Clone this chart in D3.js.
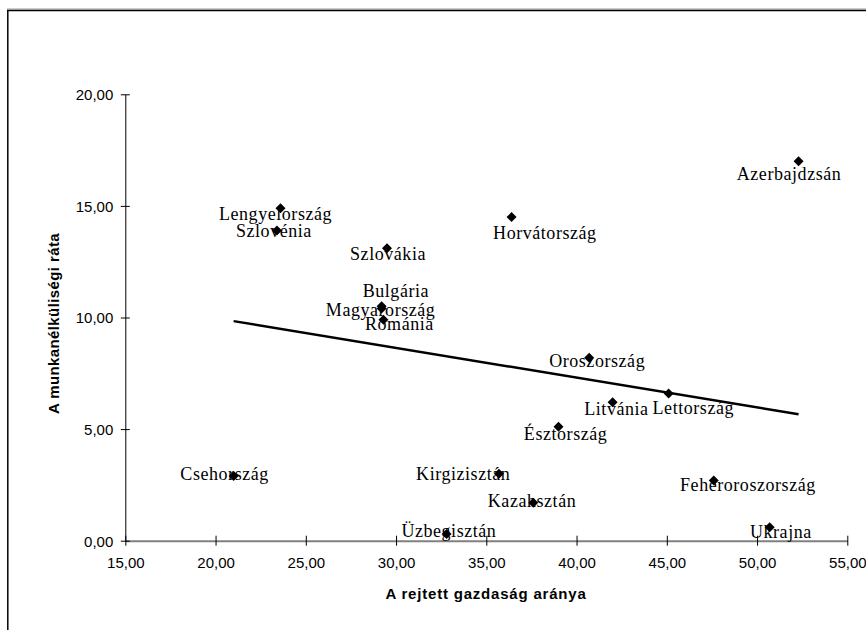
<!DOCTYPE html>
<html>
<head>
<meta charset="utf-8">
<script src="https://cdn.jsdelivr.net/npm/d3@7"></script>
<style>
  html, body { margin: 0; padding: 0; background: #fff; }
  svg { display: block; }
</style>
</head>
<body>
<svg id="chart" width="866" height="630"></svg>
<script>
// ---- data ----
const countries = ["Lengyelország", "Szlovénia", "Azerbajdzsán", "Horvátország", "Szlovákia",
  "Bulgária", "Magyarország", "Románia", "Oroszország", "Lettország", "Litvánia", "Észtország",
  "Csehország", "Üzbegisztán", "Kirgizisztán", "Kazahsztán", "Fehéroroszország", "Ukrajna"];
const shadowEconomy = [23.6, 23.4, 52.3, 36.4, 29.5, 29.2, 29.2, 29.3, 40.7, 45.1, 42.0, 39.0,
  21.0, 32.8, 35.7, 37.6, 47.6, 50.7];
const unemployment = [14.9, 13.9, 17.0, 14.5, 13.1, 10.5, 10.4, 9.9, 8.2, 6.6, 6.2, 5.1,
  2.9, 0.3, 3.0, 1.7, 2.7, 0.6];
const xTicks = [15, 20, 25, 30, 35, 40, 45, 50, 55];
const xTickLabels = ["15,00", "20,00", "25,00", "30,00", "35,00", "40,00", "45,00", "50,00", "55,00"];
const yTicks = [0, 5, 10, 15, 20];
const yTickLabels = ["0,00", "5,00", "10,00", "15,00", "20,00"];
const xTitle = "A rejtett gazdaság aránya";
const yTitle = "A munkanélküliségi ráta";

// ---- layout (label placement relative to each point, px) ----
const labelOffset = {
  "Lengyelország": [-5, 12], "Szlovénia": [-3, 6.6], "Azerbajdzsán": [-9.5, 19],
  "Horvátország": [33.3, 21.6], "Szlovákia": [1, 11.3], "Bulgária": [14.3, -9.6],
  "Magyarország": [-1, 7.7], "Románia": [16, 10.7], "Oroszország": [8, 9.4],
  "Lettország": [24.7, 21], "Litvánia": [3.8, 13], "Észtország": [7.1, 13.3],
  "Csehország": [-9, 4], "Üzbegisztán": [2.3, 3.4], "Kirgizisztán": [-35.7, 6.7],
  "Kazahsztán": [-1.2, 4], "Fehéroroszország": [34.2, 10.3], "Ukrajna": [11.2, 10.7]
};

const svg = d3.select("#chart");
const x = d3.scaleLinear().domain([15, 55]).range([125.3, 847.3]);
const y = d3.scaleLinear().domain([0, 20]).range([540.7, 94.3]);

// outer chart frame (cropped on right/bottom)
svg.append("line").attr("x1", 7).attr("x2", 866).attr("y1", 9).attr("y2", 9)
  .attr("stroke", "#9a9a9a").attr("stroke-width", 1);
svg.append("line").attr("x1", 7).attr("x2", 866).attr("y1", 10.5).attr("y2", 10.5)
  .attr("stroke", "#000").attr("stroke-width", 1.5);
svg.append("line").attr("x1", 7.8).attr("x2", 7.8).attr("y1", 10).attr("y2", 630)
  .attr("stroke", "#000").attr("stroke-width", 1.5);

// x axis
const xAxis = d3.axisBottom(x).tickValues(xTicks).tickFormat((d, i) => xTickLabels[i]).tickSize(5).tickSizeOuter(0);
const gx = svg.append("g").attr("transform", `translate(0,${y(0)})`).call(xAxis);
gx.select(".domain").attr("stroke", "#808080").attr("stroke-width", 2);
gx.selectAll(".tick line").attr("y1", -5).attr("y2", 5).attr("stroke", "#000");
gx.selectAll(".tick text").attr("y", 27).attr("dy", 0)
  .attr("font-family", "Liberation Sans, Arial, sans-serif").attr("font-size", 15).attr("fill", "#000");

// y axis
const yAxis = d3.axisLeft(y).tickValues(yTicks).tickFormat((d, i) => yTickLabels[i]).tickSize(5).tickSizeOuter(0);
const gy = svg.append("g").attr("transform", `translate(${x(15)},0)`).call(yAxis);
gy.select(".domain").attr("stroke", "#000").attr("stroke-width", 1);
gy.selectAll(".tick line").attr("x1", -4.5).attr("x2", 4.5).attr("stroke", "#000");
gy.selectAll(".tick text").attr("x", -12).attr("dy", "0.36em")
  .attr("font-family", "Liberation Sans, Arial, sans-serif").attr("font-size", 15).attr("fill", "#000");

// axis titles
svg.append("text").attr("x", 486).attr("y", 599.3).attr("text-anchor", "middle")
  .attr("font-family", "Liberation Sans, Arial, sans-serif").attr("font-size", 15)
  .attr("font-weight", "bold").attr("letter-spacing", 0.8).text(xTitle);
svg.append("text").attr("transform", "translate(58.5,323.5) rotate(-90)").attr("text-anchor", "middle")
  .attr("font-family", "Liberation Sans, Arial, sans-serif").attr("font-size", 15)
  .attr("font-weight", "bold").attr("letter-spacing", 0.4).text(yTitle);

const pts = countries.map((c, i) => ({ name: c, x: shadowEconomy[i], y: unemployment[i] }));

// linear trend line (least squares)
const mx = d3.mean(pts, d => d.x), my = d3.mean(pts, d => d.y);
const slope = d3.sum(pts, d => (d.x - mx) * (d.y - my)) / d3.sum(pts, d => (d.x - mx) ** 2);
const icpt = my - slope * mx;
const [x0, x1] = d3.extent(pts, d => d.x);
svg.append("line").attr("x1", x(x0)).attr("y1", y(icpt + slope * x0))
  .attr("x2", x(x1)).attr("y2", y(icpt + slope * x1))
  .attr("stroke", "#000").attr("stroke-width", 2.5);

// labels
svg.append("g").selectAll("text").data(pts).join("text")
  .attr("x", d => x(d.x) + labelOffset[d.name][0])
  .attr("y", d => y(d.y) + labelOffset[d.name][1])
  .attr("text-anchor", "middle")
  .attr("font-family", "Liberation Serif, Times New Roman, serif")
  .attr("font-size", 18).attr("letter-spacing", 0.55).attr("fill", "#000")
  .text(d => d.name);

// markers
const diamond = d3.symbol(d3.symbolSquare, 50);
svg.append("g").selectAll("path").data(pts).join("path")
  .attr("d", diamond)
  .attr("transform", d => `translate(${x(d.x)},${y(d.y)}) rotate(45)`)
  .attr("fill", "#000");
</script>
</body>
</html>
